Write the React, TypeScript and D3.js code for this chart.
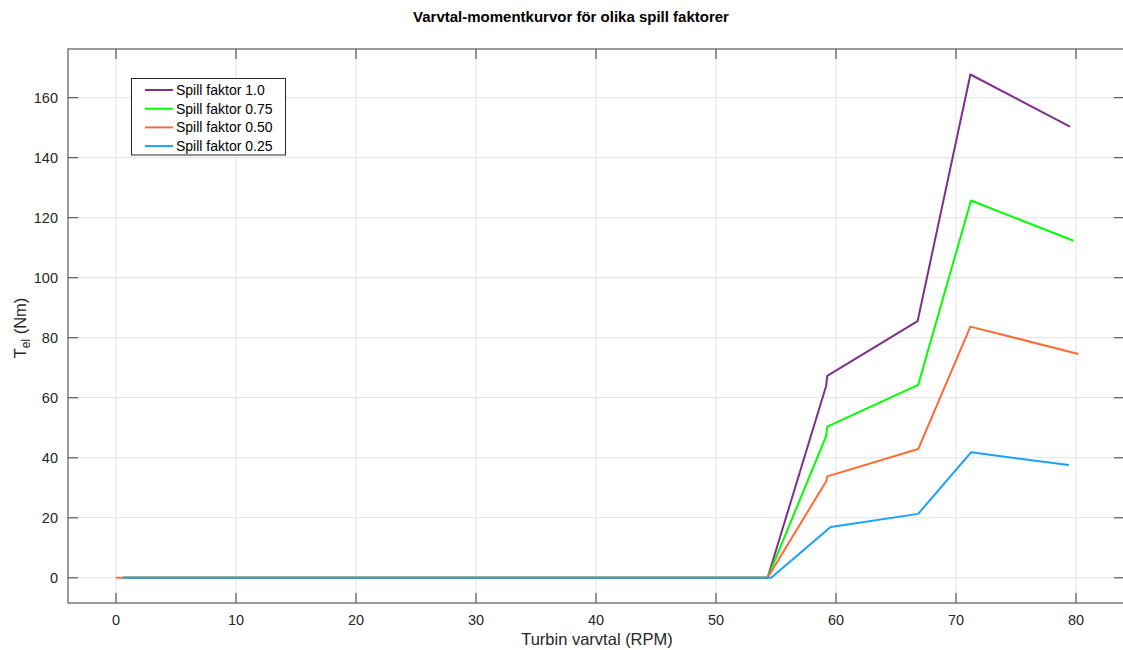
import React from "react";
import * as d3 from "d3";

const seriesNames = ["Spill faktor 1.0", "Spill faktor 0.75", "Spill faktor 0.50", "Spill faktor 0.25"];
const seriesColors = ["#7E2F8E", "#00FF00", "#FF6A33", "#1AA0FF"];

const xPurple = [0.6, 54.3, 59.17, 59.27, 66.8, 71.2, 79.5];
const yPurple = [0, 0, 63.8, 67.3, 85.5, 167.7, 150.3];
const xGreen = [0.6, 54.3, 59.17, 59.27, 66.85, 71.25, 79.8];
const yGreen = [0, 0, 47.1, 50.4, 64.3, 125.7, 112.3];
const xOrange = [0, 54.3, 59.17, 59.27, 66.85, 71.2, 80.2];
const yOrange = [0, 0, 32.1, 33.8, 42.9, 83.7, 74.6];
const xBlue = [0.6, 54.6, 59.55, 66.85, 71.25, 79.4];
const yBlue = [0, 0, 16.9, 21.3, 41.8, 37.6];

const xTicks = [0, 10, 20, 30, 40, 50, 60, 70, 80];
const yTicks = [0, 20, 40, 60, 80, 100, 120, 140, 160];

const title = "Varvtal-momentkurvor för olika spill faktorer";
const xLabel = "Turbin varvtal (RPM)";

export default function App() {
  const W = 1123, H = 650;
  const L = 68, R = 1124, T = 49, B = 603;
  const x = d3.scaleLinear().domain([-4, 84]).range([L, R]);
  const y = d3.scaleLinear().domain([-8.4, 176.2]).range([B, T]);
  const xs = [xPurple, xGreen, xOrange, xBlue];
  const ys = [yPurple, yGreen, yOrange, yBlue];
  const line = d3.line<[number, number]>().x(d => x(d[0])).y(d => y(d[1]));
  const font = "'Liberation Sans', Arial, sans-serif";
  const axisColor = "#5a5a5a";
  const tickLen = 10;
  return (
    <svg width={W} height={H} style={{ position: "absolute", left: 0, top: 0, background: "#fff" }} fontFamily={font}>
      <rect x={0} y={0} width={W} height={H} fill="#fff" />
      {xTicks.map(t => (
        <line key={"gx" + t} x1={x(t)} x2={x(t)} y1={T} y2={B} stroke="#e3e3e3" strokeWidth={1} />
      ))}
      {yTicks.map(t => (
        <line key={"gy" + t} x1={L} x2={R} y1={y(t)} y2={y(t)} stroke="#e3e3e3" strokeWidth={1} />
      ))}
      {xs.map((xv, i) => (
        <path key={"s" + i} d={line(xv.map((v, j) => [v, ys[i][j]] as [number, number])) || ""} fill="none" stroke={seriesColors[i]} strokeWidth={2} strokeLinejoin="round" />
      ))}
      <rect x={L} y={T} width={R - L} height={B - T} fill="none" stroke={axisColor} strokeWidth={1.2} />
      {xTicks.map(t => (
        <g key={"tx" + t}>
          <line x1={x(t)} x2={x(t)} y1={B} y2={B - tickLen} stroke={axisColor} strokeWidth={1.2} />
          <line x1={x(t)} x2={x(t)} y1={T} y2={T + tickLen} stroke={axisColor} strokeWidth={1.2} />
          <text x={x(t)} y={B + 22} textAnchor="middle" fontSize={14.5} fill="#262626">{t}</text>
        </g>
      ))}
      {yTicks.map(t => (
        <g key={"ty" + t}>
          <line x1={L} x2={L + tickLen} y1={y(t)} y2={y(t)} stroke={axisColor} strokeWidth={1.2} />
          <line x1={R} x2={R - tickLen} y1={y(t)} y2={y(t)} stroke={axisColor} strokeWidth={1.2} />
          <text x={L - 10} y={y(t) + 5} textAnchor="end" fontSize={14.5} fill="#262626">{t}</text>
        </g>
      ))}
      <text x={571} y={22} textAnchor="middle" fontSize={15} fontWeight="bold" fill="#000">{title}</text>
      <text x={597} y={645} textAnchor="middle" fontSize={16.5} fill="#262626">{xLabel}</text>
      <text transform={`translate(26, 328) rotate(-90)`} textAnchor="middle" fontSize={16.5} fill="#262626">
        T<tspan fontSize={12} dy={4}>el</tspan><tspan dy={-4}> (Nm)</tspan>
      </text>
      <g>
        <rect x={131.5} y={78.5} width={154} height={76.5} fill="#fff" stroke="#262626" strokeWidth={1} />
        {seriesNames.map((n, i) => {
          const ry = 90 + i * 18.7;
          return (
            <g key={"lg" + i}>
              <line x1={145} x2={173} y1={ry} y2={ry} stroke={seriesColors[i]} strokeWidth={2} />
              <text x={176} y={ry + 5} fontSize={14} fill="#000">{n}</text>
            </g>
          );
        })}
      </g>
    </svg>
  );
}
